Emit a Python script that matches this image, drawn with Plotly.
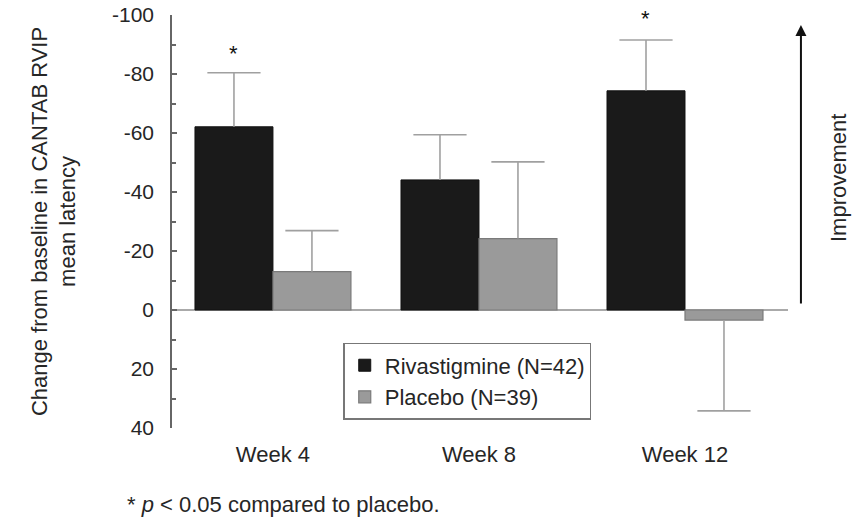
import plotly.graph_objects as go

categories = ["Week 4", "Week 8", "Week 12"]
riv_values = [-62.1, -44.1, -74.3]
riv_err = [18.3, 15.3, 17.2]
plac_values = [-13.0, -24.2, 3.4]
plac_err_up = [13.9, 26.0, 0.0]
plac_err_down = [0.0, 0.0, 30.8]
y_tickvals = [-100, -80, -60, -40, -20, 0, 20, 40]
y_ticktext = ["-100", "-80", "-60", "-40", "-20", "0", "20", "40"]
sig_stars = [(0, -87.0), (2, -98.8)]

FONT = "Liberation Sans, Arial, sans-serif"
TXT = "#262626"
ERR = "#a0a0a0"
x_idx = list(range(len(categories)))
riv_ends = [v - e for v, e in zip(riv_values, riv_err)]
plac_ends = [v - u + d for v, u, d in zip(plac_values, plac_err_up, plac_err_down)]

fig = go.Figure()
fig.add_trace(go.Bar(
    x=x_idx, y=riv_values, name="Rivastigmine (N=42)", offsetgroup="riv",
    marker=dict(color="#1a1a1a", line=dict(color="#111111", width=1)),
    error_y=dict(type="data", symmetric=False, array=[0, 0, 0], arrayminus=riv_err,
                 color=ERR, thickness=1.6, width=0),
))
fig.add_trace(go.Bar(
    x=x_idx, y=plac_values, name="Placebo (N=39)", offsetgroup="plac",
    marker=dict(color="#9a9a9a", line=dict(color="#7a7a7a", width=1.2)),
    error_y=dict(type="data", symmetric=False, array=plac_err_down, arrayminus=plac_err_up,
                 color=ERR, thickness=1.6, width=0),
))
# error bar caps
for ends, grp in [(riv_ends, "riv"), (plac_ends, "plac")]:
    fig.add_trace(go.Scatter(
        x=x_idx, y=ends, mode="markers", offsetgroup=grp, showlegend=False,
        hoverinfo="skip",
        marker=dict(symbol="line-ew", size=38, line=dict(color=ERR, width=1.6)),
    ))

for xi, ys in sig_stars:
    fig.add_annotation(x=xi - 0.19, y=ys, xref="x", yref="y", text="*", showarrow=False,
                       font=dict(size=22, color="#111", family=FONT))

# Improvement arrow (paper coordinates, right of plot area)
fig.add_annotation(x=1.021, y=0.976, xref="paper", yref="paper",
                   axref="pixel", ayref="pixel", ax=0, ay=280,
                   text="", showarrow=True, arrowhead=2,
                   arrowsize=1.1, arrowwidth=2, arrowcolor="#111")
fig.add_annotation(x=1.081, y=0.605, xref="paper", yref="paper", text="Improvement",
                   xanchor="center", yanchor="middle",
                   textangle=-90, showarrow=False,
                   font=dict(size=22, color=TXT, family=FONT))

# footnote
fig.add_annotation(x=-0.0763, y=-0.186, xref="paper", yref="paper", xanchor="left",
                   yanchor="middle",
                   text="* <i>p</i> &lt; 0.05 compared to placebo.", showarrow=False,
                   font=dict(size=22, color=TXT, family=FONT))

fig.update_layout(
    width=859, height=522,
    margin=dict(l=172, r=71, t=15, b=94, autoexpand=False),
    paper_bgcolor="white", plot_bgcolor="white",
    barmode="group", bargap=0.243, bargroupgap=0,
    scattermode="group", scattergap=0.243,
    font=dict(family=FONT, size=22, color=TXT),
    showlegend=True,
    legend=dict(x=0.278, y=0.206, xanchor="left", yanchor="top",
                bordercolor="#777", borderwidth=1.5, bgcolor="white",
                font=dict(size=22, color=TXT, family=FONT),
                traceorder="normal", itemclick=False, tracegroupgap=0),
    xaxis=dict(range=[-0.49, 2.5], tickvals=x_idx, ticktext=categories,
               showline=False, showgrid=False, zeroline=False, ticks="",
               automargin=False,
               ticklabelstandoff=11, tickfont=dict(size=22, color=TXT)),
    yaxis=dict(range=[40, -100], tickvals=y_tickvals, ticktext=y_ticktext,
               automargin=False, ticklabeloverflow="allow",
               showline=True, linecolor="#666", linewidth=1.5,
               ticks="inside", ticklen=5, tickcolor="#666", tickwidth=1.5,
               minor=dict(dtick=10, ticks="inside", ticklen=4, tickcolor="#666", tickwidth=1.5),
               showgrid=False, zeroline=True, zerolinecolor="#aaaaaa", zerolinewidth=1.5,
               ticklabelstandoff=12, tickfont=dict(size=21, color=TXT),
               title=dict(text="Change from baseline in CANTAB RVIP<br>mean latency",
                          font=dict(size=22, color=TXT), standoff=30)),
)

fig.write_html("out.html", config={"displayModeBar": False},
               post_script="document.body.style.margin='0';")
